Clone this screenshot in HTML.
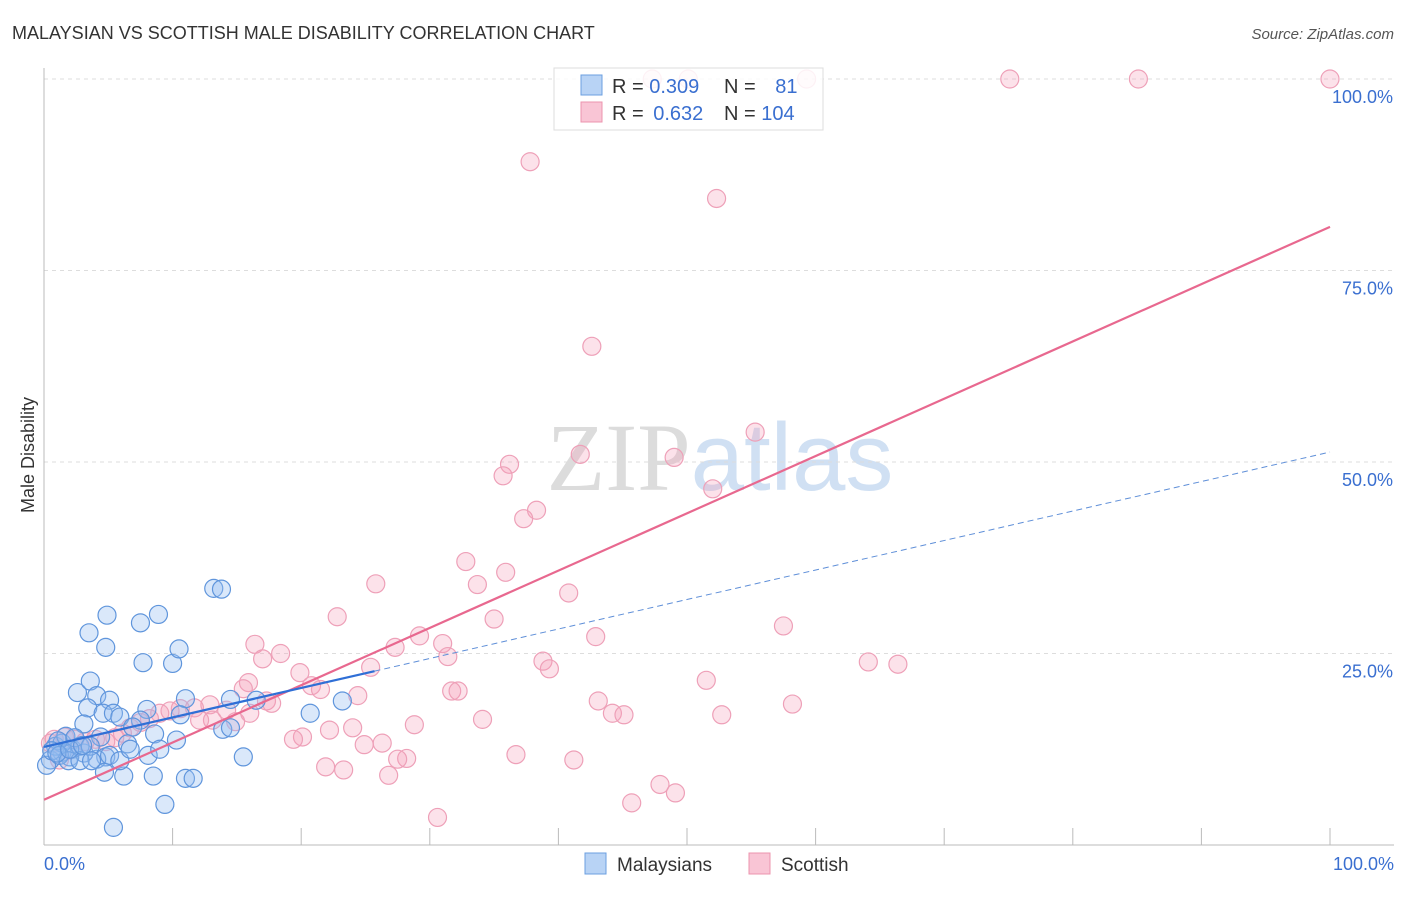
<!DOCTYPE html>
<html><head><meta charset="utf-8"><style>
body{margin:0;background:#fff;font-family:"Liberation Sans",sans-serif;}
svg text{font-family:"Liberation Sans",sans-serif;}
</style></head><body>
<svg id="c" width="1406" height="892" xmlns="http://www.w3.org/2000/svg">
<text x="12" y="39" font-size="18" fill="#333">MALAYSIAN VS SCOTTISH MALE DISABILITY CORRELATION CHART</text>
<text x="1394" y="39" font-size="15" fill="#555" text-anchor="end" font-style="italic">Source: ZipAtlas.com</text>
<text transform="translate(34,455) rotate(-90)" font-size="18" fill="#333" text-anchor="middle">Male Disability</text>
<text x="720" y="490" font-size="96" text-anchor="middle" fill="#ddd"><tspan font-family="Liberation Serif" fill="#dcdcdc">ZIP</tspan><tspan fill="#d0e0f3">atlas</tspan></text>
<g id="grid"></g><g id="pts"></g><g id="lines"></g>
<g>
<rect x="554" y="68" width="269" height="62" fill="#fff" fill-opacity="0.85" stroke="#ddd"/>
<rect x="581" y="75" width="21" height="20" fill="#b8d3f5" stroke="#6b9fe0"/>
<rect x="581" y="102" width="21" height="20" fill="#f9c5d5" stroke="#ec94ae"/>
<text x="612" y="93" font-size="20" fill="#333">R = <tspan fill="#3a6fd0">0.309</tspan></text>
<text x="724" y="93" font-size="20" fill="#333">N = <tspan fill="#3a6fd0" dx="14">81</tspan></text>
<text x="612" y="120" font-size="20" fill="#333">R = <tspan fill="#3a6fd0" dx="4">0.632</tspan></text>
<text x="724" y="120" font-size="20" fill="#333">N = <tspan fill="#3a6fd0">104</tspan></text>
</g>
<g>
<rect x="585" y="853" width="21" height="21" fill="#b8d3f5" stroke="#6b9fe0"/>
<text x="617" y="871" font-size="19" fill="#333">Malaysians</text>
<rect x="749" y="853" width="21" height="21" fill="#f9c5d5" stroke="#ec94ae"/>
<text x="781" y="871" font-size="19" fill="#333">Scottish</text>
</g>
</svg>
<script>
const yTicks=[25,50,75,100];
const yTickLabels=["25.0%","50.0%","75.0%","100.0%"];
const xTicks=[0,10,20,30,40,50,60,70,80,90,100];
const malaysiansX=[4.9,3.5,4.8,7.5,8.9,7.7,10,10.5,13.2,13.8,2.6,3.6,4.1,5.1,3.4,3.1,4.6,5.4,5.9,8,11,10.6,14.5,16.5,20.7,23.2,7.5,6.9,8.6,10.3,4.4,6.5,4.8,4.1,4.7,6.2,8.1,8.5,11.0,11.6,9.4,5.4,15.5,13.9,14.5,3.1,2.0,1.4,0.5,0.2,0.9,1.4,2.2,2.8,1.7,1.1,2.4,3.6,0.6,1.2,1.9,2.8,3.7,5.1,5.9,6.7,9.0,1.0,2.0,3.0];
const malaysiansY=[30,27.7,25.8,29,30.1,23.8,23.7,25.6,33.5,33.4,19.9,21.4,19.5,18.9,17.9,15.8,17.2,17.2,16.7,17.7,19.1,17.0,19.0,18.9,17.2,18.8,16.3,15.4,14.5,13.7,14.1,13.2,11.5,11.2,9.5,9.0,11.7,9.0,8.7,8.7,5.3,2.3,11.5,15.1,15.3,12.0,11.5,12.1,11.1,10.4,12.9,13.3,12.5,12.9,14.2,13.6,14.0,12.9,12.3,11.7,11.0,11.0,11.0,11.7,11.0,12.5,12.5,12.0,12.5,13.0];
const scottishX=[75.1,85.1,100,59.3,47.3,50.1,37.8,52.3,42.6,55.3,41.7,49,36.2,35.7,52,38.3,37.3,32.8,35.9,33.7,25.8,40.8,22.8,35,57.5,29.2,42.9,31,27.3,31.4,16.4,18.4,17,38.8,39.3,64.1,66.4,25.4,19.9,51.5,20.8,21.5,31.7,32.2,24.4,15.9,15.5,17.3,17.7,43.1,44.2,45.1,52.7,58.2,34.1,28.8,24,22.2,14.9,14.2,12.9,11.7,10.6,9.8,9,8.2,7.5,6.7,6.1,5.5,4.8,4,3.2,2.4,1.6,0.8,0.5,20.1,19.4,26.3,24.9,36.7,28.2,27.5,41.2,21.9,23.3,26.8,47.9,49.1,45.7,30.6,16,13.1,1.2,2,12.1];
const scottishY=[100,100,100,100,100,100,89.2,84.4,65.1,53.9,51,50.6,49.7,48.2,46.5,43.7,42.6,37,35.6,34,34.1,32.9,29.8,29.5,28.6,27.3,27.2,26.3,25.8,24.6,26.2,25,24.3,24,23,23.9,23.6,23.2,22.5,21.5,20.8,20.3,20.1,20.1,19.5,21.2,20.4,18.8,18.5,18.8,17.2,17,17,18.4,16.4,15.7,15.3,15,16.1,17.6,18.3,17.9,17.8,17.5,17.2,16.5,16,15.3,14.6,14,13.5,13.8,13.5,13.8,14.1,13.8,13.3,14.1,13.8,13.3,13.1,11.8,11.3,11.2,11.1,10.2,9.8,9.1,7.9,6.8,5.5,3.6,17.2,16.3,11.1,12.4,16.3];
const pinkTrend=[5.9,80.7];
const blueTrend=[12.8,51.3];
const blueSolidEnd=25.7;

const ns="http://www.w3.org/2000/svg";
const X=v=>44+v*12.86, Y=v=>845-v*7.66;
function mk(tag,attrs,parent){const e=document.createElementNS(ns,tag);for(const k in attrs)e.setAttribute(k,attrs[k]);parent.appendChild(e);return e;}
const grid=document.getElementById('grid');
yTicks.forEach((t,i)=>{
 const l=mk('line',{x1:44,x2:1394,y1:Y(t),y2:Y(t),stroke:'#ddd','stroke-dasharray':'4,4'},grid);
 
 
 const tx=mk('text',{x:1393,y:Y(t)+24,'font-size':18,fill:'#3a6fd0','text-anchor':'end'},grid);
 tx.textContent=yTickLabels[i];
 
 
});
const ax=mk('line',{x1:44,x2:44,y1:68,y2:845,stroke:'#bbb'},grid);


const bx=mk('line',{x1:44,x2:1394,y1:845,y2:845,stroke:'#bbb'},grid);


xTicks.forEach(t=>{
 const l=mk('line',{x1:X(t),x2:X(t),y1:828,y2:845,stroke:'#bbb'},grid);
 
 
});
[[0,"0.0%","start",44],[100,"100.0%","end",1394]].forEach(a=>{
 const tx=mk('text',{x:a[3],y:870,'font-size':18,fill:'#3a6fd0','text-anchor':a[2]},grid);
 tx.textContent=a[1];
 
 
});
const pts=document.getElementById('pts');
scottishX.forEach((v,i)=>{
 const c=mk('circle',{cx:X(v),cy:Y(scottishY[i]),r:9,fill:'rgba(244,160,185,0.3)',stroke:'#eea0b8','stroke-width':1.2},pts);
 
 
});
malaysiansX.forEach((v,i)=>{
 const c=mk('circle',{cx:X(v),cy:Y(malaysiansY[i]),r:9,fill:'rgba(150,190,240,0.35)',stroke:'#5f95dc','stroke-width':1.2},pts);
 
 
});
const lines=document.getElementById('lines');
const pl=mk('line',{x1:X(0),y1:Y(pinkTrend[0]),x2:X(100),y2:Y(pinkTrend[1]),stroke:'#e8688f','stroke-width':2.2},lines);


const bAt=x=>blueTrend[0]+(blueTrend[1]-blueTrend[0])*x/100;
const bl=mk('line',{x1:X(0),y1:Y(bAt(0)),x2:X(blueSolidEnd),y2:Y(bAt(blueSolidEnd)),stroke:'#2f6fd6','stroke-width':2.2},lines);


const bd=mk('line',{x1:X(blueSolidEnd),y1:Y(bAt(blueSolidEnd)),x2:X(100),y2:Y(bAt(100)),stroke:'#5f8fd8','stroke-width':1,'stroke-dasharray':'6,4'},lines);


</script>
</body></html>
